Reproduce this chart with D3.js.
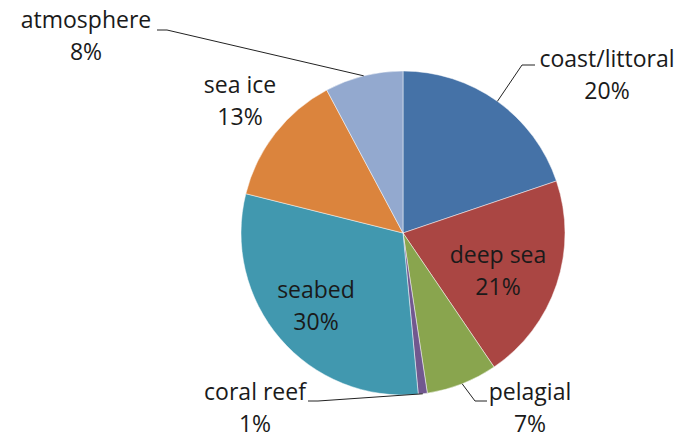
<!DOCTYPE html>
<html><head><meta charset="utf-8">
<script src="https://cdn.jsdelivr.net/npm/d3@7"></script>
<style>body{margin:0;background:#fff}svg{display:block}text{font-family:"Open Sans",sans-serif;fill:#1a1a1a}</style>
</head><body><svg id="c" width="685" height="438"></svg>
<script>
const categories = ["coast/littoral","deep sea","pelagial","coral reef","seabed","sea ice","atmosphere"];
const values = [19.8, 20.7, 7.1, 0.9, 30.4, 13.3, 7.8];
const colors = ["#4572A7","#AA4643","#89A54E","#71588F","#4198AF","#DB843D","#93A9CF"];
// label anchor (center x, first baseline y) and leader polyline helpers
const labelPos = [[607,67],[498,263],[530,400],[255,400],[316,298],[240,93],[86,28]];
const leaders = [
  {attach:[535,65], elbow:[522,65]},
  null,
  {attach:[487,401], elbow:[475,401]},
  {attach:[308,401], elbow:[318,401]},
  null,
  null,
  {attach:[157,30], elbow:[167,30]}
];

const svg = d3.select("#c");
const cx = 403, cy = 233, r = 162;
const g = svg.append("g").attr("transform",`translate(${cx},${cy})`);
const pie = d3.pie().sort(null).value(d=>d)(values);
const arc = d3.arc().innerRadius(0).outerRadius(r);
g.selectAll("path").data(pie).join("path")
  .attr("d",arc).attr("fill",(d,i)=>colors[i])
  .attr("stroke","#fff").attr("stroke-width",0.8).attr("stroke-opacity",0.6);

const total = d3.sum(values);
pie.forEach((d,i)=>{
  const L = leaders[i];
  if(L){
    const mid = (d.startAngle+d.endAngle)/2;
    const px = cx + Math.sin(mid)*r, py = cy - Math.cos(mid)*r;
    svg.append("polyline")
      .attr("points",[L.attach,L.elbow,[px,py]].map(p=>p.join(",")).join(" "))
      .attr("fill","none").attr("stroke","#222").attr("stroke-width",1);
  }
  const [x,y] = labelPos[i];
  const t = svg.append("text").attr("text-anchor","middle").attr("font-size",23);
  t.append("tspan").attr("x",x).attr("y",y).text(categories[i]);
  t.append("tspan").attr("x",x).attr("y",y+32).text(Math.round(values[i]/total*100)+"%");
});
</script></body></html>
